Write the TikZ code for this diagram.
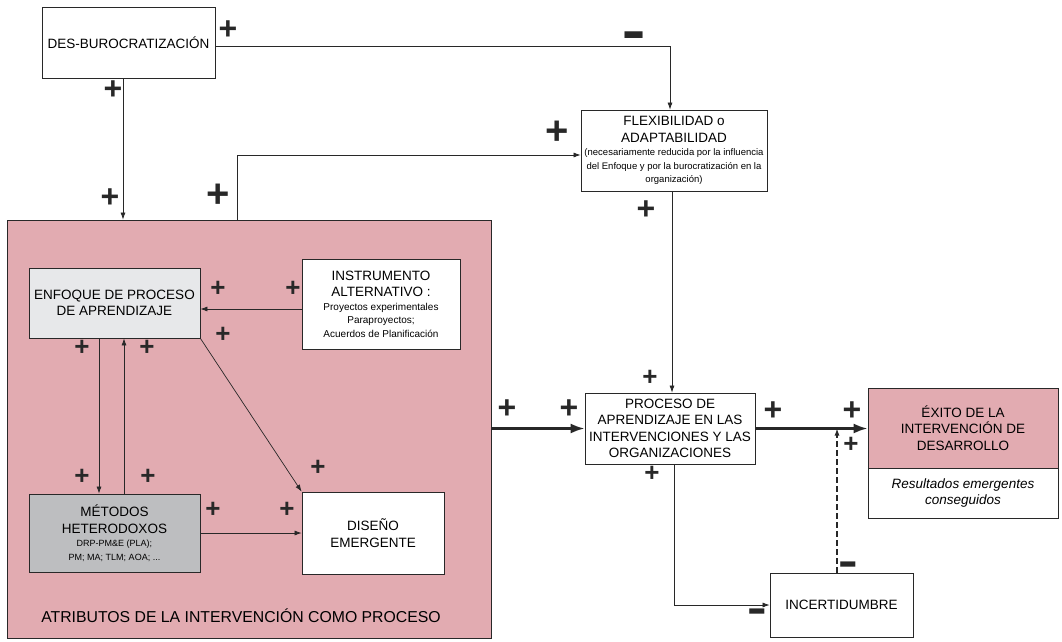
\documentclass[tikz,border=0pt]{standalone}
\usepackage{fontspec}
\setmainfont{Liberation Sans}
\usetikzlibrary{arrows.meta,calc}
\definecolor{pinkfill}{RGB}{226,171,177}
\definecolor{enfgray}{RGB}{231,232,234}
\definecolor{metgray}{RGB}{189,190,192}
\definecolor{linec}{RGB}{40,40,40}
\newcommand\mainf{\fontsize{13.5}{16.5}\selectfont}
\newcommand\smallf{\fontsize{9}{11}\selectfont}
\newcommand\flexf{\fontsize{9.5}{11}\selectfont}
\newcommand\smallerf{\fontsize{10}{10.5}\selectfont}
\tikzset{
  box/.style={draw=linec, line width=0.8pt, inner sep=0pt, align=center, font=\mainf},
  arr/.style={draw=linec, line width=0.7pt, -{Latex[length=7pt,width=5pt]}},
  thickarr/.style={draw=linec, line width=2.4pt, -{Latex[length=14pt,width=10pt]}},
  plusS/.style={font=\fontsize{26}{26}\selectfont\bfseries, inner sep=0pt, text=linec},
  plusM/.style={font=\fontsize{32}{32}\selectfont\bfseries, inner sep=0pt, text=linec},
  plusL/.style={font=\fontsize{40}{40}\selectfont\bfseries, inner sep=0pt, text=linec},
  minusS/.style={font=\fontsize{30}{30}\selectfont\bfseries, inner sep=0pt, text=linec},
  minusL/.style={font=\fontsize{36}{36}\selectfont\bfseries, inner sep=0pt, text=linec},
}
\begin{document}
\begin{tikzpicture}[x=1pt,y=-1pt]
\fill[white] (0,0) rectangle (1062,641);
\useasboundingbox (0,0) rectangle (1062,641);
% big container
\node[box, fill=pinkfill, minimum width=484, minimum height=418] (big) at (249,429) {};
\node[font=\fontsize{15.8}{18}\selectfont, inner sep=0pt] (attr) at (241,616) {ATRIBUTOS DE LA INTERVENCIÓN COMO PROCESO};
% outer boxes
\node[box, minimum width=173, minimum height=71] (des) at (128.5,42.5) {DES-BUROCRATIZACIÓN};
\node[box, minimum width=186, minimum height=81] (flex) at (674,150.5)
  {FLEXIBILIDAD o\\ADAPTABILIDAD\\[-3pt]
   \flexf (necesariamente reducida por la influencia\\[-3pt]
   \flexf del Enfoque y por la burocratización en la\\[-3pt]
   \flexf organización)};
\node[box, minimum width=170, minimum height=71] (proc) at (670,428.5)
  {PROCESO DE\\APRENDIZAJE EN LAS\\INTERVENCIONES Y LAS\\ORGANIZACIONES};
\node[box, fill=pinkfill, minimum width=190, minimum height=80] (exito) at (963,428)
  {ÉXITO DE LA\\INTERVENCIÓN DE\\DESARROLLO};
\node[box, minimum width=190, minimum height=50, font=\mainf\itshape] (res) at (963,493)
  {Resultados emergentes\\conseguidos};
\node[box, minimum width=143, minimum height=64] (inc) at (841.5,605) {INCERTIDUMBRE};
% inner boxes
\node[box, fill=enfgray, minimum width=171, minimum height=70] (enf) at (114.5,303)
  {ENFOQUE DE PROCESO\\DE APRENDIZAJE};
\node[box, fill=white, minimum width=158, minimum height=90] (ins) at (381,304)
  {INSTRUMENTO\\ALTERNATIVO :\\[-3pt]
   \smallerf Proyectos experimentales\\[-3pt]
   \smallerf Paraproyectos;\\[-3pt]
   \smallerf Acuerdos de Planificación};
\node[box, fill=metgray, minimum width=171, minimum height=78] (met) at (114.5,533)
  {MÉTODOS\\HETERODOXOS\\[-3pt]
   \smallf DRP-PM\&E (PLA);\\[-3pt]
   \smallf PM; MA; TLM; AOA; ...};
\node[box, fill=white, minimum width=142, minimum height=82] (dis) at (373,533)
  {DISEÑO\\EMERGENTE};
% connectors
\coordinate (de) at ([yshift=-3.5pt]des.east);
\coordinate (fn) at ([xshift=-4pt]flex.north);
\draw[arr] (de) -| (fn);
\coordinate (dsb) at ([xshift=-5.5pt]des.south);
\draw[arr] (dsb) -- (dsb |- big.north);
\coordinate (bt) at ([xshift=-12pt]big.north);
\coordinate (fw) at ([yshift=-4.5pt]flex.west);
\draw[arr] (bt) |- (fw);
\coordinate (fs) at ([xshift=-2pt]flex.south);
\draw[arr] (fs) -- (fs |- proc.north);
\draw[thickarr] (big.east |- proc.west) -- (proc.west);
\draw[thickarr] (proc.east) -- (proc.east -| exito.west);
\coordinate (ps) at ([xshift=4pt]proc.south);
\draw[arr] (ps) |- (inc.west);
\coordinate (it) at ([xshift=-4.5pt]inc.north);
\draw[arr, line width=1.2pt, dash pattern=on 6pt off 3pt] (it) -- (it |- proc.east);
\coordinate (iw) at ([yshift=-5pt]ins.west);
\draw[arr] (iw) -- (iw -| enf.east);
\coordinate (e1) at ([xshift=-15.5pt]enf.south);
\draw[arr] (e1) -- (e1 |- met.north);
\coordinate (m1) at ([xshift=9.5pt]met.north);
\draw[arr] (m1) -- (m1 |- enf.south);
\draw[arr] (enf.south east) -- (dis.north west);
\draw[arr] (met.east) -- (met.east -| dis.west);
% signs
\node[plusM] (p1) at (228,30) {+};
\node[plusM] (p2) at (113,90) {+};
\node[plusM] (p3) at (110,198) {+};
\node[plusL] (p4) at (218,196) {+};
\node[plusL] (p5) at (557,133) {+};
\node[plusM] (p6) at (646,210) {+};
\node[plusS] (p7) at (650,378) {+};
\node[plusM] (p8) at (507,409) {+};
\node[plusM] (p9) at (569,409) {+};
\node[plusM] (p10) at (773,411) {+};
\node[plusM] (p11) at (852,411) {+};
\node[plusS] (p12) at (851,445) {+};
\node[plusS] (p13) at (652,474) {+};
\node[plusS] (p14) at (218,289) {+};
\node[plusS] (p15) at (293,289) {+};
\node[plusS] (p16) at (223,335) {+};
\node[plusS] (p17) at (82,348) {+};
\node[plusS] (p18) at (147,348) {+};
\node[plusS] (p19) at (82,477) {+};
\node[plusS] (p20) at (148,477) {+};
\node[plusS] (p21) at (318,468) {+};
\node[plusS] (p22) at (213,510) {+};
\node[plusS] (p23) at (287,510) {+};
\node[minusL] (m1s) at (634,44) {\scalebox{1}[1.7]{−}};
\node[minusS] (m2s) at (848,571) {\scalebox{1}[1.6]{−}};
\node[minusS] (m3s) at (757,618) {\scalebox{1}[1.6]{−}};
\end{tikzpicture}
\end{document}
